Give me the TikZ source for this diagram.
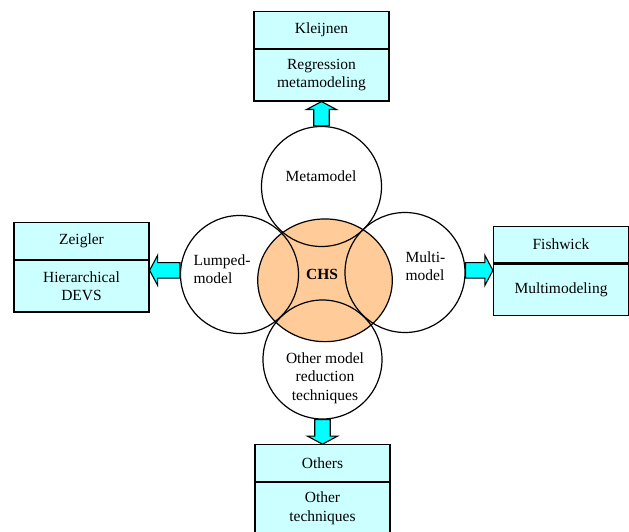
\documentclass[tikz,border=0pt]{standalone}
\usepackage{fontspec}
\setmainfont{Liberation Serif}
\usetikzlibrary{shapes.geometric,calc}

\definecolor{boxcyan}{RGB}{204,255,255}
\definecolor{arrowcyan}{RGB}{0,255,255}
\definecolor{chsorange}{RGB}{255,204,153}

\begin{document}
\begin{tikzpicture}[x=1pt,y=-1pt,line width=1.2pt,
  every node/.style={font=\fontsize{15.5}{18.5}\selectfont},
  model/.style={circle,draw,minimum size=120pt,inner sep=0pt},
  caption/.style={inner sep=0pt},
  headbox/.style={rectangle,draw,fill=boxcyan,minimum width=135pt,minimum height=36.5pt,inner sep=0pt},
  bodybox/.style={headbox,minimum height=51.5pt,align=center},
  fatarrow/.style={draw,fill=arrowcyan,line width=1.1pt,line join=miter}]
\useasboundingbox (0,0) rectangle (629,532);

% the five models
\node[ellipse,draw,fill=chsorange,minimum width=134.6pt,minimum height=122.7pt,inner sep=0pt] (chs) at (325,280.3) {};
\node[model] (meta) at (321.5,186.5) {};
\node[model,minimum size=118pt] (lumped) at (239.5,274.5) {};
\node[model] (multi) at (405,272.5) {};
\node[model,minimum size=119pt] (other) at (322.5,359.5) {};

\node[caption] (chsText) at (322,274) {\textbf{CHS}};
\node[caption] (metaText) at (321,176) {Metamodel};
\node[caption,align=left,anchor=west] (lumpedText) at (193,269) {Lumped-\\model};
\node[caption,align=left,anchor=west] (multiText) at (405,266) {Multi-\\model};
\node[caption,align=center] (otherText) at (325,378) {Other model\\reduction\\techniques};

% the four boxes
\node[headbox] (kleijnenHead) at (321.5,30) {Kleijnen};
\node[bodybox,anchor=north] (kleijnenBody) at (kleijnenHead.south) {Regression\\metamodeling};

\node[headbox] (zeiglerHead) at (81.5,241) {Zeigler};
\node[bodybox,anchor=north] (zeiglerBody) at (zeiglerHead.south) {Hierarchical\\DEVS};

\node[headbox] (fishwickHead) at (561,244.5) {Fishwick};
\node[bodybox,anchor=north] (fishwickBody) at (fishwickHead.south) {Multimodeling};

\node[headbox] (othersHead) at (322.5,463) {Others};
\node[bodybox,anchor=north] (othersBody) at (othersHead.south) {Other\\techniques};

\coordinate (zeiglerIn) at (zeiglerBody.east |- lumped.176);
\coordinate (fishwickIn) at (fishwickBody.west |- multi.2);

% block arrows
\foreach \src/\dst in {meta.north/kleijnenBody.south, lumped.176/zeiglerIn, multi.2/fishwickIn, other.south/othersHead.north}
{
  \coordinate (headBase) at ($(\dst)!8pt!(\src)$);
  \draw[fatarrow] ($(\src)!7.75pt!90:(\dst)$) -- ($(headBase)!7.75pt!-90:(\src)$)
    -- ($(headBase)!15pt!-90:(\src)$) -- (\dst) -- ($(headBase)!15pt!90:(\src)$)
    -- ($(headBase)!7.75pt!90:(\src)$) -- ($(\src)!7.75pt!-90:(\dst)$) -- cycle;
}
\end{tikzpicture}
\end{document}
